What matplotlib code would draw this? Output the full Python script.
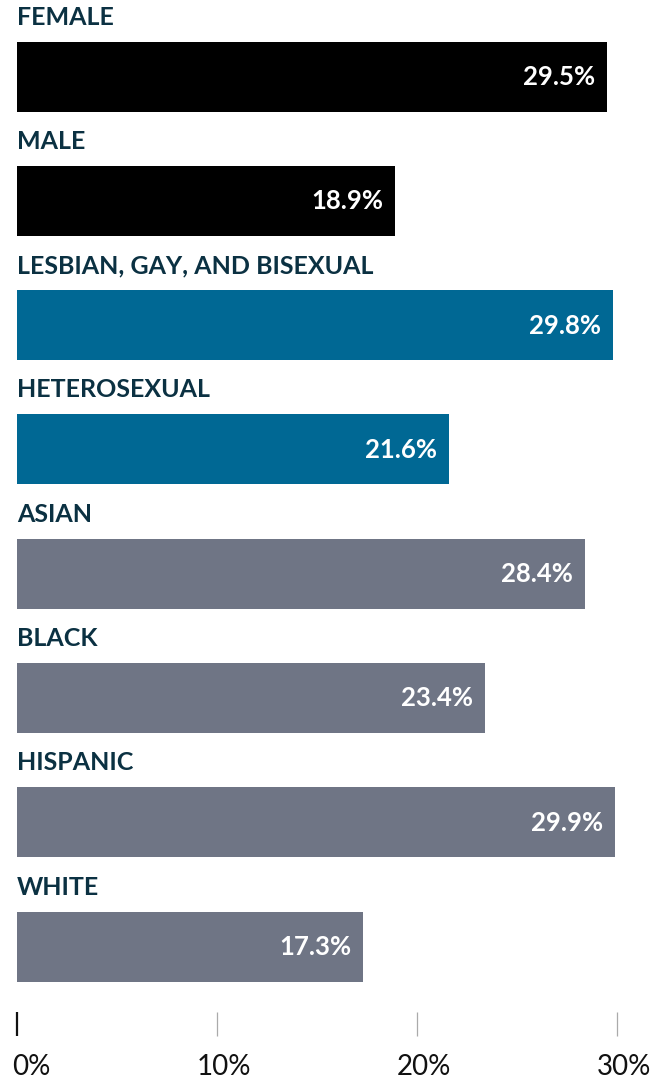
import matplotlib
matplotlib.use("Agg")
import matplotlib.pyplot as plt
from matplotlib.transforms import offset_copy

categories = ["FEMALE", "MALE", "LESBIAN, GAY, AND BISEXUAL", "HETEROSEXUAL",
              "ASIAN", "BLACK", "HISPANIC", "WHITE"]
values = [29.5, 18.9, 29.8, 21.6, 28.4, 23.4, 29.9, 17.3]
groups = ["sex", "sex", "orientation", "orientation",
          "race", "race", "race", "race"]
tick_values = [0, 10, 20, 30]
tick_labels = ["0%", "10%", "20%", "30%"]

group_colors = {"sex": "#000000", "orientation": "#006894", "race": "#6f7585"}
label_color = "#0b3142"

W, H, DPI = 654, 1080, 100
fig = plt.figure(figsize=(W / DPI, H / DPI), dpi=DPI)
ax = fig.add_axes([0, 0, 1, 1])

px_per_unit_x = 20.0
x0_px = 17.0
ax.set_xlim(-x0_px / px_per_unit_x, (W - x0_px) / px_per_unit_x)

step_px = 124.3
c0_px = 76.5
ax.set_ylim((H - c0_px) / step_px, -c0_px / step_px)
ax.axis("off")

bar_h = 70 / step_px
ys = list(range(len(categories)))
PT = 72 / DPI

for y, cat, v, g in zip(ys, categories, values, groups):
    ax.barh(y, v, height=bar_h, left=0, color=group_colors[g], linewidth=0)
    # category title above the bar
    t_cat = offset_copy(ax.transData, fig=fig, x=0, y=17 * PT, units="points")
    ax.text(0, y - bar_h / 2, cat, transform=t_cat, ha="left", va="baseline",
            fontsize=18, fontweight="bold", family="Lato", color=label_color)
    # value inside the bar end
    t_val = offset_copy(ax.transData, fig=fig, x=-12 * PT, y=-8.5 * PT,
                        units="points")
    ax.text(v, y, f"{v:.1f}%", transform=t_val, ha="right", va="baseline",
            fontsize=18.5, fontweight="bold", family="Lato", color="white")

# axis ticks and labels along the bottom
tick_top = (1012 - c0_px) / step_px
tick_bot = (1036 - c0_px) / step_px
lab_y = (1075 - c0_px) / step_px
for i, (tv, tl) in enumerate(zip(tick_values, tick_labels)):
    if i == 0:
        ax.plot([tv, tv], [tick_top, tick_bot], color="#111111", lw=1.6,
                solid_capstyle="butt")
        dx = 14
    else:
        ax.plot([tv, tv], [tick_top, tick_bot], color="#aaaaaa", lw=0.9,
                solid_capstyle="butt")
        dx = 7
    t_tick = offset_copy(ax.transData, fig=fig, x=dx * PT, y=0, units="points")
    ax.text(tv, lab_y, tl, transform=t_tick, ha="center", va="baseline",
            fontsize=20, family="Lato", color="#111111")

fig.savefig("out.png", dpi=DPI)
